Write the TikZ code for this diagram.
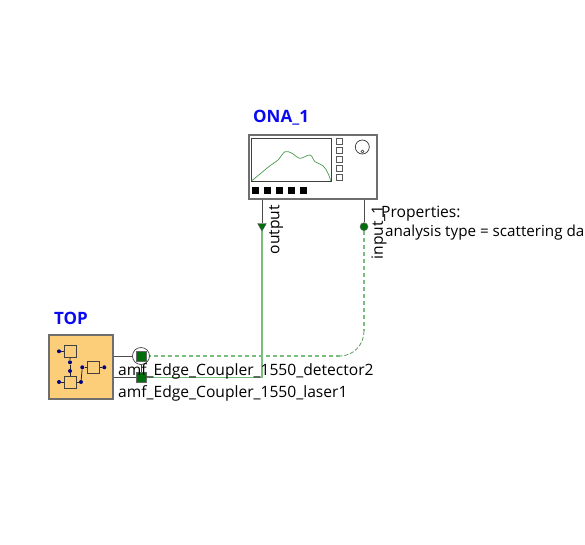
\documentclass[tikz,border=0pt]{standalone}
\usepackage{fontspec}
\setmainfont{Open Sans}
\usetikzlibrary{positioning, calc, backgrounds, shapes.geometric}

\definecolor{blockfill}{RGB}{252,206,122}
\definecolor{titleblue}{RGB}{10,10,240}
\definecolor{portgreen}{RGB}{0,110,10}
\definecolor{wiregreen}{RGB}{120,190,125}
\definecolor{framegray}{RGB}{110,110,110}
\definecolor{tracegreen}{RGB}{70,155,75}

\begin{document}
\begin{tikzpicture}[
    x=1pt, y=-1pt,
    % Style definitions
    title/.style={
        font=\fontsize{17}{19}\selectfont\bfseries, text=titleblue,
        inner sep=0pt, anchor=west
    },
    caption/.style={
        font=\fontsize{15.6}{18}\selectfont, text=black,
        inner sep=0pt, anchor=west
    },
    sidelabel/.style={
        caption, anchor=east, rotate=90
    },
    instrument/.style={
        rectangle, draw=framegray, fill=white, line width=1.3pt,
        minimum width=128pt, minimum height=64pt, inner sep=0pt
    },
    topblock/.style={
        rectangle, draw=framegray, fill=blockfill, line width=1.3pt,
        minimum width=64pt, minimum height=64pt, inner sep=0pt
    },
    screen/.style={
        rectangle, draw=black!75, fill=white, line width=0.8pt,
        minimum width=80pt, minimum height=43pt, inner sep=0pt
    },
    softkey/.style={
        rectangle, draw=black!65, fill=white, line width=0.8pt,
        minimum size=6pt, inner sep=0pt
    },
    hardkey/.style={
        rectangle, fill=black, minimum size=7pt, inner sep=0pt
    },
    knob/.style={
        circle, draw=black!80, line width=0.7pt, minimum size=14pt, inner sep=0pt
    },
    subblock/.style={
        rectangle, draw=black!75, fill=blockfill, line width=1pt,
        minimum size=12pt, inner sep=0pt
    },
    blueport/.style={
        circle, fill=blue!50!black, minimum size=4pt, inner sep=0pt
    },
    squareport/.style={
        rectangle, draw=black!60, fill=portgreen, line width=0.5pt,
        minimum size=9.5pt, inner sep=0pt
    },
    roundport/.style={
        circle, draw=black!60, fill=portgreen, line width=0.5pt,
        minimum size=8pt, inner sep=0pt
    },
    arrowport/.style={
        regular polygon, regular polygon sides=3, shape border rotate=180,
        draw=black!70, fill=portgreen, minimum size=10pt, inner sep=0pt
    },
    halo/.style={
        circle, draw=black!75, fill=white, line width=0.7pt,
        minimum size=17pt, inner sep=0pt
    },
    stub/.style={
        black!70, line width=1pt
    },
    innerwire/.style={
        black!85, line width=0.8pt
    },
    optical/.style={
        draw=wiregreen, line width=1.6pt
    },
    opticaldash/.style={
        optical, dash pattern=on 4pt off 3pt
    },
]
\useasboundingbox (0, 0) rectangle (585, 544);

% === Network analyser ===
\node[title] (onatitle) at (253, 118) {ONA\_1};
\node[instrument] (ona) at (313, 167) {};
\node[screen] (onascreen) at (291.7, 159.4) {};
\foreach \i in {0,...,4} {
    \node[softkey] (softkey\i) at (339, 141.3+9*\i) {};
    \node[hardkey] (hardkey\i) at (255.7+12*\i, 190.7) {};
}
\node[knob] (onaknob) at (362.3, 147) {};
\node[circle, draw=black!80, line width=0.5pt, minimum size=3pt, inner sep=0pt] (onaknobdot) at (362.5, 151.5) {};
\draw[tracegreen, line width=0.7pt] plot[smooth, tension=0.6] coordinates {
    (251.7,180.7) (260,174) (270,165.7) (278,160) (285,151.7) (292,153.3)
    (300,158.3) (310,155) (315,161.7) (323,165.7) (328,173.3) (330.7,180.7)};

% === Ports of the analyser ===
\node[arrowport] (outputpin) at (262, 226) {};
\node[roundport] (inputpin) at (364, 226.7) {};
\node[sidelabel] (outputlabel) at (276, 205) {output};
\node[sidelabel] (inputlabel) at (379, 205) {input\_1};
\node[caption] (proptitle) at (381, 214) {Properties:};
\node[caption, font=\fontsize{15.2}{18}\selectfont] (propline) at (385, 233) {analysis type = scattering da};

% === Top level block ===
\node[title] (toptitle) at (54, 318) {TOP};
\node[topblock] (top) at (81, 367) {};
\node[subblock] (blocka) at (70.3, 351.3) {};
\node[subblock] (blockb) at (93.3, 367.3) {};
\node[subblock] (blockc) at (70, 382) {};
\node[blueport] (dota) at (59, 351.3) {};
\node[blueport] (dotb) at (70, 362.3) {};
\node[blueport] (dotc) at (70, 371) {};
\node[blueport] (dotd) at (59, 382) {};
\node[blueport] (dote) at (81, 382) {};
\node[blueport] (dotf) at (82.3, 367.3) {};
\node[blueport] (dotg) at (104.3, 367.3) {};

% === Ports of the top block ===
\node[halo] (detectorhalo) at (141, 356) {};
\node[squareport] (detectorport) at (141, 356) {};
\node[squareport] (laserport) at (141, 377.3) {};
\node[caption] (detectorlabel) at (118, 371) {amf\_Edge\_Coupler\_1550\_detector2};
\node[caption] (laserlabel) at (118, 393) {amf\_Edge\_Coupler\_1550\_laser1};

% === Connections, under the nodes ===
\coordinate (bendtop) at (364, 331);
\coordinate (bendleft) at (340, 356);
\begin{scope}[on background layer]
    \draw[stub] (ona.south -| outputpin) -- (outputpin);
    \draw[stub] (ona.south -| inputpin) -- (inputpin);
    \draw[stub] (top.east |- detectorhalo) -- (detectorhalo);
    \draw[stub] (top.east |- laserport) -- (laserport);
    \draw[black!75, line width=0.5pt] (detectorhalo) -- (laserport);
    \draw[optical] (outputpin) |- (laserport);
    \draw[opticaldash] (inputpin) -- (bendtop);
    \draw[wiregreen!80!black, line width=0.8pt, dash pattern=on 4pt off 2pt] (bendtop) to[out=270, in=0] (bendleft);
    \draw[opticaldash] (bendleft) -- (detectorport);
\end{scope}

% === Wires inside the top block ===
\draw[innerwire] (blocka) -- (dotb);
\draw[innerwire] (dotb) -- (dotc);
\draw[innerwire] (dotc) -- (blockc);
\draw[innerwire] (dote) -- (dotf);
\draw[innerwire] (dota) -- (blocka);
\draw[innerwire] (dotd) -- (blockc);
\draw[innerwire] (dote) -- (blockc);
\draw[innerwire] (dotf) -- (blockb);
\draw[innerwire] (dotg) -- (blockb);

\end{tikzpicture}
\end{document}
